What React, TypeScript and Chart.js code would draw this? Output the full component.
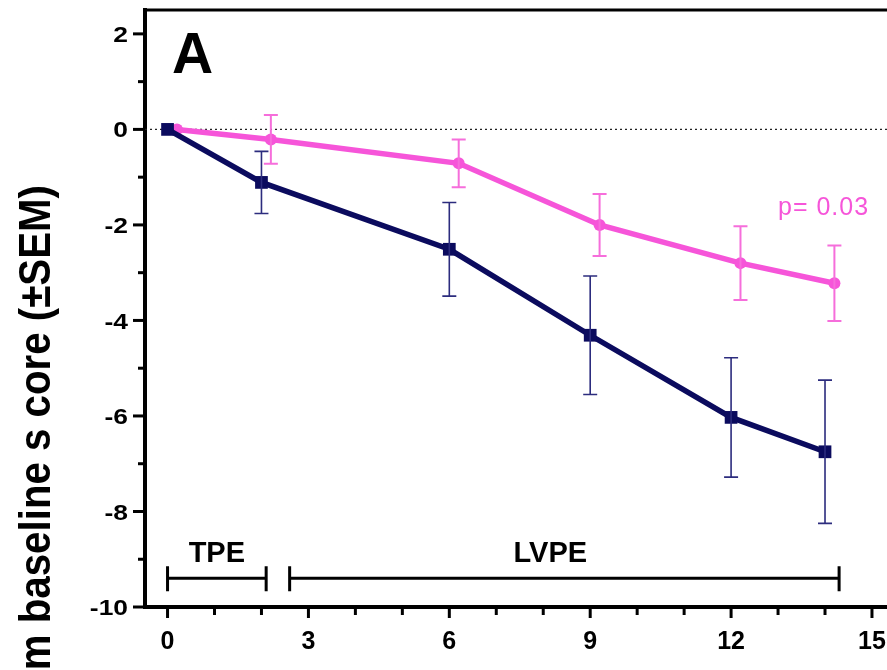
import React, { useEffect, useRef } from 'react';
import { Chart, registerables } from 'chart.js';

Chart.register(...registerables);

// ---- data ----
const group1Weeks = [0, 2, 6, 9, 12, 14];
const group1Mean = [0, -1.11, -2.51, -4.31, -6.03, -6.75];
const group1Sem = [0, 0.65, 0.98, 1.24, 1.25, 1.5];

const group2Weeks = [0.2, 2.2, 6.2, 9.2, 12.2, 14.2];
const group2Mean = [0, -0.21, -0.71, -2.0, -2.8, -3.22];
const group2Sem = [0, 0.51, 0.5, 0.65, 0.77, 0.79];

const yTickValues = [-10, -8, -6, -4, -2, 0, 2];
const yMinorValues = [-9, -7, -5, -3, -1, 1];
const xTickValues = [0, 3, 6, 9, 12, 15];
const xMinorValues = [1, 2, 4, 5, 7, 8, 10, 11, 13, 14];

const phaseLabels = ['TPE', 'LVPE'];
const phaseStart = [0, 2.6];
const phaseEnd = [2.1, 14.3];
const phaseLabelX = [1.05, 8.15];
const phaseBarY = -9.4;
const phaseLabelY = -8.9;

const pValueText = 'p= 0.03';
const panelLetter = 'A';
const yTitle = 'Change from baseline s core (±SEM)';

const NAVY = '#0b0b5e';
const NAVY_ERR = '#2c2c7e';
const PINK = '#f655d9';
const PINK_ERR = '#f66edb';
const FONT = '"Liberation Sans", Arial, Helvetica, sans-serif';

const decorPlugin = {
  id: 'decor',
  beforeDatasetsDraw(chart: any) {
    const { ctx, chartArea, scales } = chart;
    const y = scales.y;
    const y0 = y.getPixelForValue(0);
    ctx.save();
    ctx.strokeStyle = '#222';
    ctx.lineWidth = 1.3;
    ctx.setLineDash([2, 3]);
    ctx.beginPath();
    ctx.moveTo(chartArea.left, y0);
    ctx.lineTo(chartArea.right, y0);
    ctx.stroke();
    ctx.restore();
  },
  afterDatasetsDraw(chart: any) {
    const { ctx, scales } = chart;
    const { x, y } = scales;
    const drawErr = (xs: number[], ms: number[], ss: number[], color: string, w: number) => {
      ctx.save();
      ctx.strokeStyle = color;
      ctx.lineWidth = w;
      xs.forEach((xv, i) => {
        if (!ss[i]) return;
        const px = x.getPixelForValue(xv);
        const pt = y.getPixelForValue(ms[i] + ss[i]);
        const pb = y.getPixelForValue(ms[i] - ss[i]);
        ctx.beginPath();
        ctx.moveTo(px, pt);
        ctx.lineTo(px, pb);
        ctx.moveTo(px - 7, pt);
        ctx.lineTo(px + 7, pt);
        ctx.moveTo(px - 7, pb);
        ctx.lineTo(px + 7, pb);
        ctx.stroke();
      });
      ctx.restore();
    };
    drawErr(group2Weeks, group2Mean, group2Sem, PINK_ERR, 2);
    drawErr(group1Weeks, group1Mean, group1Sem, NAVY_ERR, 1.6);
  },
  afterDraw(chart: any) {
    const { ctx, chartArea, scales } = chart;
    const { x, y } = scales;
    ctx.save();
    ctx.strokeStyle = '#000';
    ctx.fillStyle = '#000';

    // top frame
    ctx.lineWidth = 3;
    ctx.beginPath();
    ctx.moveTo(chartArea.left - 2, chartArea.top);
    ctx.lineTo(chartArea.right, chartArea.top);
    ctx.stroke();

    // y ticks + labels
    ctx.lineWidth = 3;
    yTickValues.forEach((v) => {
      const py = y.getPixelForValue(v);
      ctx.beginPath();
      ctx.moveTo(chartArea.left - 12, py);
      ctx.lineTo(chartArea.left, py);
      ctx.stroke();
      ctx.save();
      ctx.translate(chartArea.left - 17, py + 2);
      ctx.scale(1.2, 1);
      ctx.font = `bold 22px ${FONT}`;
      ctx.textAlign = 'right';
      ctx.textBaseline = 'middle';
      ctx.fillText(String(v), 0, 0);
      ctx.restore();
    });
    yMinorValues.forEach((v) => {
      const py = y.getPixelForValue(v);
      ctx.beginPath();
      ctx.moveTo(chartArea.left - 7, py);
      ctx.lineTo(chartArea.left, py);
      ctx.stroke();
    });
    // x ticks
    xTickValues.forEach((v) => {
      const px = x.getPixelForValue(v);
      ctx.beginPath();
      ctx.moveTo(px, chartArea.bottom);
      ctx.lineTo(px, chartArea.bottom + 11);
      ctx.stroke();
    });
    xMinorValues.forEach((v) => {
      const px = x.getPixelForValue(v);
      ctx.beginPath();
      ctx.moveTo(px, chartArea.bottom);
      ctx.lineTo(px, chartArea.bottom + 8);
      ctx.stroke();
    });

    // phase brackets
    const by = y.getPixelForValue(phaseBarY);
    phaseLabels.forEach((lab, i) => {
      const x1 = x.getPixelForValue(phaseStart[i]);
      const x2 = x.getPixelForValue(phaseEnd[i]);
      ctx.lineWidth = 3;
      ctx.beginPath();
      ctx.moveTo(x1, by);
      ctx.lineTo(x2, by);
      ctx.moveTo(x1, by - 12);
      ctx.lineTo(x1, by + 13);
      ctx.moveTo(x2, by - 12);
      ctx.lineTo(x2, by + 13);
      ctx.stroke();
      ctx.font = `bold 29px ${FONT}`;
      ctx.textAlign = 'center';
      ctx.textBaseline = 'middle';
      ctx.fillText(lab, x.getPixelForValue(phaseLabelX[i]), y.getPixelForValue(phaseLabelY));
    });

    // panel letter
    ctx.font = `bold 57px ${FONT}`;
    ctx.textAlign = 'left';
    ctx.textBaseline = 'alphabetic';
    ctx.fillText(panelLetter, chartArea.left + 27, 73);

    // p value
    ctx.fillStyle = PINK;
    ctx.font = `25px ${FONT}`;
    (ctx as any).letterSpacing = '1px';
    ctx.fillText(pValueText, 778, 215);
    (ctx as any).letterSpacing = '0px';

    // y-axis title (partly clipped as in reference)
    ctx.fillStyle = '#000';
    ctx.translate(50, 185);
    ctx.rotate(-Math.PI / 2);
    ctx.scale(0.915, 1);
    ctx.font = `bold 44px ${FONT}`;
    ctx.textAlign = 'right';
    ctx.textBaseline = 'alphabetic';
    ctx.fillText(yTitle, 0, 0);
    ctx.restore();
  },
};

export default function App() {
  const ref = useRef<HTMLCanvasElement | null>(null);

  useEffect(() => {
    if (!ref.current) return;
    const chart = new Chart(ref.current, {
      type: 'line',
      data: {
        datasets: [
          {
            label: 'Group 1',
            data: group1Weeks.map((w, i) => ({ x: w, y: group1Mean[i] })),
            borderColor: NAVY,
            backgroundColor: NAVY,
            borderWidth: 5.5,
            pointStyle: 'rect',
            pointRadius: 9,
            pointBorderWidth: 0,
            tension: 0,
          },
          {
            label: 'Group 2',
            data: group2Weeks.map((w, i) => ({ x: w, y: group2Mean[i] })),
            borderColor: PINK,
            backgroundColor: PINK,
            borderWidth: 5.5,
            pointStyle: 'circle',
            pointRadius: 6,
            pointBorderWidth: 0,
            tension: 0,
          },
        ],
      },
      options: {
        animation: false,
        responsive: false,
        layout: { autoPadding: false, padding: { top: 10, right: 0, left: 0, bottom: 0 } },
        plugins: { legend: { display: false }, tooltip: { enabled: false } },
        scales: {
          x: {
            type: 'linear',
            min: -0.48,
            max: 15.32,
            afterBuildTicks: (s: any) => {
              s.ticks = xTickValues.map((v) => ({ value: v }));
            },
            afterFit: (s: any) => {
              s.height = 63;
              s.paddingLeft = 0;
              s.paddingRight = 0;
            },
            grid: { drawOnChartArea: false, drawTicks: false, color: 'rgba(0,0,0,0)' },
            border: { display: true, color: '#000', width: 4 },
            ticks: {
              autoSkip: false,
              maxRotation: 0,
              padding: 20,
              color: '#000',
              font: { family: FONT, size: 25, weight: 'bold' },
              callback: (v: any) => String(v),
            },
          },
          y: {
            type: 'linear',
            min: -10,
            max: 2.5,
            afterBuildTicks: (s: any) => {
              s.ticks = yTickValues.map((v) => ({ value: v }));
            },
            afterFit: (s: any) => {
              s.width = 145;
              s.paddingTop = 0;
              s.paddingBottom = 0;
            },
            grid: { drawOnChartArea: false, drawTicks: false, color: 'rgba(0,0,0,0)' },
            border: { display: true, color: '#000', width: 4 },
            ticks: { display: false },
          },
        },
      },
      plugins: [decorPlugin],
    } as any);
    return () => chart.destroy();
  }, []);

  return (
    <canvas
      ref={ref}
      width={887}
      height={670}
      style={{ position: 'fixed', left: 0, top: 0, display: 'block', width: 887, height: 670, background: '#fff' }}
    />
  );
}
